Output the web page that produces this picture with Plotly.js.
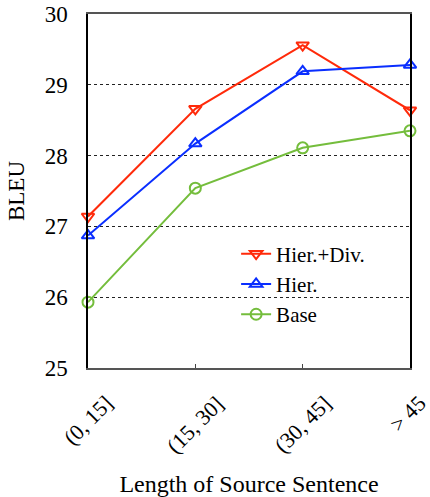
<!DOCTYPE html>
<html>
<head>
<meta charset="utf-8">
<script src="https://cdn.plot.ly/plotly-3.0.1.min.js"></script>
<style>
html,body{margin:0;padding:0;background:#fff;font-family:"Liberation Serif",serif;}
#chart text, #chart tspan, .main-svg text, .main-svg tspan{font-family:"Liberation Serif","Times New Roman",serif !important;}
</style>
</head>
<body>
<div id="chart" style="width:430px;height:497px"></div>
<script>
const categories = ["(0, 15]", "(15, 30]", "(30, 45]", "> 45"];
const hierDiv = [27.14, 28.66, 29.56, 28.64];
const hier = [26.87, 28.17, 29.19, 29.28];
const base = [25.93, 27.54, 28.11, 28.35];
const yTicks = [25, 26, 27, 28, 29, 30];

const FONT = "Liberation Serif, Times New Roman, serif";
const idx = categories.map((_, i) => i);

function trace(name, y, color, symbol) {
  return {
    x: idx, y: y, name: name, type: 'scatter', mode: 'lines+markers',
    line: {color: color, width: 2},
    marker: {symbol: symbol, size: 11, color: color, line: {color: color, width: 2}},
    cliponaxis: false
  };
}

const data = [
  trace('Hier.+Div.', hierDiv, '#ff2a0a', 'triangle-down-open'),
  trace('Hier.', hier, '#0a2eff', 'triangle-up-open'),
  trace('Base', base, '#74bd3c', 'circle-open')
];

const annotations = categories.map((c, i) => ({
  x: i, y: 0, xref: 'x', yref: 'paper', text: c, showarrow: false,
  textangle: -45, xanchor: 'center', yanchor: 'top', yshift: -20,
  xshift: i === categories.length - 1 ? -2 : 0,
  font: {family: FONT, size: 22, color: '#000'}
}));

const layout = {
  width: 430, height: 497,
  margin: {l: 88, r: 20, t: 14, b: 129},
  paper_bgcolor: '#fff', plot_bgcolor: '#fff',
  font: {family: FONT, size: 22, color: '#000'},
  showlegend: true,
  legend: {x: 0.46, y: 0.38, xanchor: 'left', yanchor: 'top', bgcolor: 'rgba(0,0,0,0)',
           font: {family: FONT, size: 21, color: '#000'}, tracegroupgap: 0, itemwidth: 30},
  xaxis: {
    range: [0, 3], tickvals: idx, ticktext: categories, showticklabels: false,
    ticks: 'inside', ticklen: 4, tickcolor: '#444',
    showline: true, linecolor: '#555', linewidth: 1.5, mirror: true,
    showgrid: false, zeroline: false, fixedrange: true,
    title: {text: 'Length of Source Sentence', standoff: 110, font: {family: FONT, size: 24, color: '#000'}},
    automargin: false
  },
  yaxis: {
    range: [25, 30], tickvals: yTicks, ticks: '', ticklabelstandoff: 14,
    showline: true, linecolor: '#000', linewidth: 1.5, mirror: true,
    showgrid: true, gridcolor: '#222', griddash: 'dot', gridwidth: 1,
    zeroline: false, fixedrange: true,
    tickfont: {family: FONT, size: 23, color: '#000'},
    title: {text: 'BLEU', standoff: 14, font: {family: FONT, size: 23, color: '#000'}},
    automargin: false
  },
  annotations: annotations
};

function draw() { Plotly.newPlot('chart', data, layout, {displayModeBar: false}); }
if (document.fonts && document.fonts.load) {
  document.fonts.load('22px "Liberation Serif"').then(draw, draw);
} else {
  draw();
}
</script>
</body>
</html>
